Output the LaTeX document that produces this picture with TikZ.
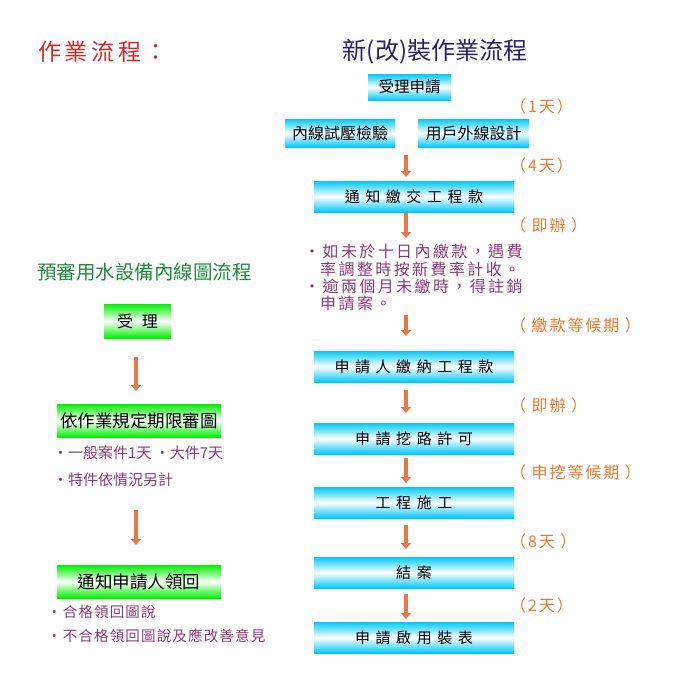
\documentclass[tikz,border=0pt]{standalone}
\usepackage{fontspec}
\setmainfont{Noto Sans CJK TC}
\newfontfamily\cjkwide[LetterSpace=37]{Noto Sans CJK TC}
\newfontfamily\cjkmid[LetterSpace=16]{Noto Sans CJK TC}
\newfontfamily\cjkloose[LetterSpace=12]{Noto Sans CJK TC}
\newfontfamily\cjkleft[LetterSpace=8]{Noto Sans CJK TC}
\newfontfamily\cjknote[LetterSpace=15]{Noto Sans CJK TC}
\usetikzlibrary{arrows.meta}
\definecolor{cyanC}{HTML}{00C8FF}
\definecolor{greenC}{HTML}{00F000}
\definecolor{titleRed}{HTML}{D02828}
\definecolor{titleNavy}{HTML}{2A1E6C}
\definecolor{titleGreen}{HTML}{1E8C3C}
\definecolor{purpleT}{HTML}{8E3A78}
\definecolor{orangeT}{HTML}{F07A30}
\definecolor{arrowC}{HTML}{E8784A}
\tikzset{
  cbox/.style={inner sep=0pt, top color=cyanC, bottom color=cyanC, middle color=white, font=\fontsize{15.5}{17}\selectfont},
  widebox/.style={cbox, minimum width=200pt, minimum height=31pt, font=\cjkwide\fontsize{15}{17}\selectfont},
  gbox/.style={inner sep=0pt, top color=greenC, bottom color=greenC, middle color=white, minimum width=164pt, minimum height=33pt, font=\fontsize{17.5}{19}\selectfont},
  flowarrow/.style={draw=arrowC, line width=3.5pt, -{Triangle[width=10pt,length=6pt]}},
  daylabel/.style={anchor=west, inner sep=0pt, text=orangeT, font=\cjkloose\fontsize{16}{18}\selectfont},
  note/.style={anchor=north west, inner sep=0pt, text=purpleT, align=left},
}
\begin{document}
\begin{tikzpicture}[x=1pt, y=-1pt]
\useasboundingbox (0,0) rectangle (685,691);
% titles
\node[text=titleRed, font=\cjkmid\fontsize{23}{25}\selectfont, anchor=west, inner sep=0pt] (t1) at (38,52) {作業流程：};
\node[text=titleNavy, font=\fontsize{24}{26}\selectfont, inner sep=0pt] (t2) at (435,52) {新(改)裝作業流程};
\node[text=titleGreen, font=\fontsize{19.5}{21}\selectfont, anchor=west, inner sep=0pt] (t3) at (37,272) {預審用水設備內線圖流程};
% right column boxes
\node[cbox, minimum width=83pt, minimum height=26pt] (b1) at (409.5,87) {受理申請};
\node[cbox, minimum width=110pt, minimum height=28pt, font=\fontsize{16}{18}\selectfont] (b2a) at (340,133) {內線試壓檢驗};
\node[cbox, minimum width=111pt, minimum height=28pt, font=\fontsize{16}{18}\selectfont] (b2b) at (473.5,133) {用戶外線設計};
\node[widebox] (b3) at (414,196.5) {通知繳交工程款};
\node[widebox] (b4) at (414,366.5) {申請人繳納工程款};
\node[widebox] (b5) at (414,438.5) {申請挖路許可};
\node[widebox] (b6) at (414,502.5) {工程施工};
\node[widebox] (b7) at (414,572.5) {結案};
\node[widebox] (b8) at (414,637.5) {申請啟用裝表};
% day labels
\node[daylabel] (d1) at (510,106) {（1天）};
\node[daylabel] (d2) at (510,165) {（4天）};
\node[daylabel] (d3) at (510,225) {（ 即辦 ）};
\node[daylabel] (d4) at (510,325) {（ 繳款等候期 ）};
\node[daylabel] (d5) at (510,405) {（ 即辦 ）};
\node[daylabel] (d6) at (510,472) {（ 申挖等候期 ）};
\node[daylabel] (d7) at (510,541) {（8天 ）};
\node[daylabel] (d8) at (510,605) {（2天）};
% right note
\node[note, font=\cjknote\fontsize{16}{17.3}\selectfont] (n1) at (304,244) {・如未於十日內繳款，遇費\\\hspace*{16pt}率調整時按新費率計收。\\・逾兩個月未繳時，得註銷\\\hspace*{16pt}申請案。};
% right arrows
\coordinate (a1s) at (406,155); \coordinate (a1e) at (406,177);
\coordinate (a2s) at (406,213); \coordinate (a2e) at (406,238);
\coordinate (a3s) at (406,315); \coordinate (a3e) at (406,336);
\coordinate (a4s) at (406,390); \coordinate (a4e) at (406,413);
\coordinate (a5s) at (406,458); \coordinate (a5e) at (406,483);
\coordinate (a6s) at (406,525); \coordinate (a6e) at (406,549);
\coordinate (a7s) at (406,594); \coordinate (a7e) at (406,619);
\foreach \i in {1,...,7} {\draw[flowarrow] (a\i s) -- (a\i e);}
% left column
\node[gbox, minimum width=67pt, minimum height=34pt, font=\fontsize{16}{18}\selectfont] (g1) at (137.5,321) {受\hspace{9pt}理};
\node[gbox] (g2) at (139,420.5) {依作業規定期限審圖};
\node[gbox] (g3) at (139,581.5) {通知申請人領回};
\node[note, font=\fontsize{15}{17}\selectfont] (n2) at (53,446) {・一般案件1天 ・大件7天};
\node[note, font=\fontsize{15}{17}\selectfont] (n3) at (53,473) {・特件依情況另計};
\node[note, font=\cjkleft\fontsize{14.5}{16}\selectfont] (n4) at (47,605) {・合格領回圖說};
\node[note, font=\cjkleft\fontsize{14.5}{16}\selectfont] (n5) at (47,629) {・不合格領回圖說及應改善意見};
\coordinate (la1s) at (136,357); \coordinate (la1e) at (136,391);
\coordinate (la2s) at (136,510); \coordinate (la2e) at (136,545);
\draw[flowarrow] (la1s) -- (la1e);
\draw[flowarrow] (la2s) -- (la2e);
\end{tikzpicture}
\end{document}
